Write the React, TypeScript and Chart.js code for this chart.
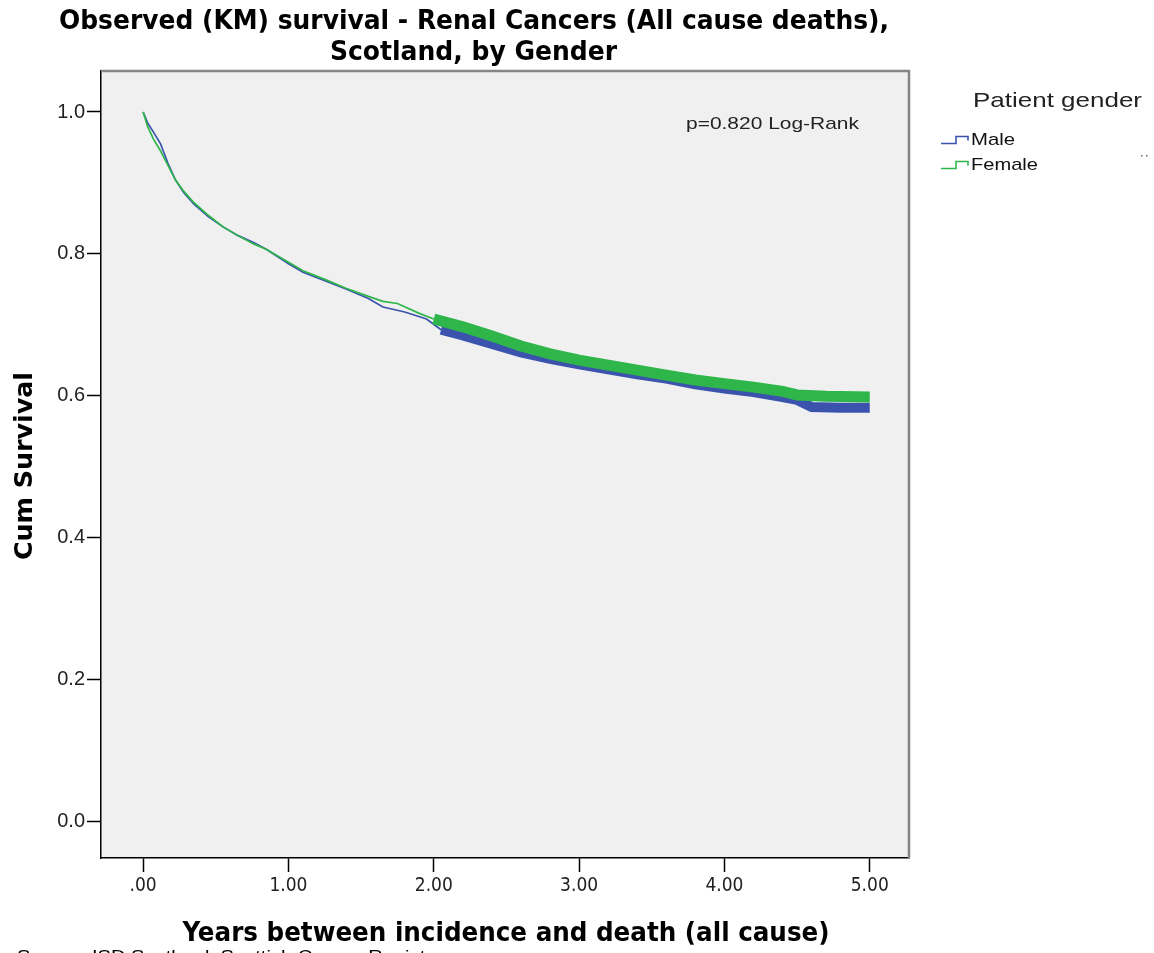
import { useEffect, useRef } from 'react';
import { Chart, registerables } from 'chart.js';

Chart.register(...registerables);

// ---- Data ----
const maleYears = [0, 0.03, 0.07, 0.12, 0.17, 0.22, 0.28, 0.35, 0.45, 0.55, 0.65, 0.76, 0.85, 1.0, 1.1, 1.25, 1.4, 1.55, 1.65, 1.8, 1.95, 2.05, 2.2, 2.4, 2.6, 2.8, 3.0, 3.2, 3.4, 3.6, 3.8, 4.0, 4.2, 4.4, 4.5, 4.6, 4.8, 5.0];
const maleSurvival = [1.0, 0.985, 0.972, 0.955, 0.928, 0.905, 0.886, 0.87, 0.852, 0.838, 0.826, 0.816, 0.806, 0.786, 0.774, 0.762, 0.75, 0.737, 0.725, 0.718, 0.708, 0.693, 0.685, 0.673, 0.661, 0.652, 0.644, 0.637, 0.63, 0.624, 0.616, 0.61, 0.605, 0.598, 0.594, 0.584, 0.583, 0.583];

const femaleYears = [0, 0.03, 0.07, 0.12, 0.17, 0.22, 0.28, 0.35, 0.45, 0.55, 0.65, 0.76, 0.85, 1.0, 1.1, 1.25, 1.4, 1.55, 1.65, 1.75, 1.9, 2.0, 2.2, 2.4, 2.6, 2.8, 3.0, 3.2, 3.4, 3.6, 3.8, 4.0, 4.2, 4.4, 4.5, 4.7, 5.0];
const femaleSurvival = [1.0, 0.98, 0.962, 0.945, 0.925, 0.905, 0.888, 0.872, 0.854, 0.838, 0.826, 0.814, 0.806, 0.788, 0.776, 0.764, 0.751, 0.74, 0.733, 0.73, 0.716, 0.708, 0.697, 0.684, 0.67, 0.659, 0.65, 0.643, 0.636, 0.629, 0.622, 0.617, 0.612, 0.606, 0.601, 0.599, 0.598];

const seriesNames = ['Male', 'Female'];
const seriesColors = ['#3b53ad', '#2fb64a'];
const censorBandFrom = 2.0; // years after which censor marks form a dense band

const xTickValues = [0, 1, 2, 3, 4, 5];
const xTickLabels = ['.00', '1.00', '2.00', '3.00', '4.00', '5.00'];
const yTickValues = [0, 0.2, 0.4, 0.6, 0.8, 1.0];
const yTickLabels = ['0.0', '0.2', '0.4', '0.6', '0.8', '1.0'];

const titleLines = ['Observed (KM) survival - Renal Cancers (All cause deaths),', 'Scotland, by Gender'];
const xTitle = 'Years between incidence and death (all cause)';
const yTitle = 'Cum Survival';
const legendTitle = 'Patient gender';
const annotationText = 'p=0.820 Log-Rank';
const sourceText = 'Source: ISD Scotland, Scottish Cancer Registry';

function fitText(
  ctx: CanvasRenderingContext2D,
  text: string,
  x: number,
  y: number,
  width: number,
  font: string,
  align: CanvasTextAlign,
  color: string,
  baseline: CanvasTextBaseline = 'alphabetic',
  rotate = 0
) {
  ctx.save();
  ctx.font = font;
  ctx.fillStyle = color;
  ctx.textBaseline = baseline;
  ctx.textAlign = align;
  const w = ctx.measureText(text).width;
  const s = width / w;
  ctx.translate(x, y);
  if (rotate) ctx.rotate(rotate);
  ctx.scale(s, 1);
  ctx.fillText(text, 0, 0);
  ctx.restore();
}

const decorPlugin = {
  id: 'decor',
  beforeDraw(chart: any) {
    const { ctx, chartArea } = chart;
    ctx.save();
    ctx.fillStyle = '#ffffff';
    ctx.fillRect(0, 0, chart.width, chart.height);
    ctx.fillStyle = '#f0f0f0';
    ctx.fillRect(chartArea.left, chartArea.top, chartArea.right - chartArea.left, chartArea.bottom - chartArea.top);
    ctx.restore();
  },
  afterDraw(chart: any) {
    const { ctx, chartArea } = chart;
    ctx.save();
    // top / right frame
    ctx.strokeStyle = '#858585';
    ctx.lineWidth = 2.5;
    ctx.beginPath();
    ctx.moveTo(chartArea.left, chartArea.top);
    ctx.lineTo(chartArea.right, chartArea.top);
    ctx.lineTo(chartArea.right, chartArea.bottom);
    ctx.stroke();

    const bold = 'bold 26px "DejaVu Sans Condensed", "DejaVu Sans", sans-serif';
    fitText(ctx, titleLines[0], 474, 29, 830, bold, 'center', '#000');
    fitText(ctx, titleLines[1], 473.5, 60, 287, bold, 'center', '#000');
    fitText(ctx, xTitle, 506, 941, 647, bold, 'center', '#000');
    fitText(ctx, yTitle, 32, 466, 188, 'bold 25px "DejaVu Sans Condensed", "DejaVu Sans", sans-serif', 'center', '#000', 'alphabetic', -Math.PI / 2);

    // source line (cut off at the bottom of the picture)
    fitText(ctx, sourceText, 17, 962, 425, '17px "Liberation Sans", Arial, sans-serif', 'left', '#000');

    // annotation
    fitText(ctx, annotationText, 686, 124, 173, '17px "Liberation Sans", Arial, sans-serif', 'left', '#222', 'middle');

    // legend
    fitText(ctx, legendTitle, 973, 107, 169, '21px "Liberation Sans", Arial, sans-serif', 'left', '#222');
    const itemY = [140, 165];
    const itemW = [44, 67];
    seriesNames.forEach((name, i) => {
      const y = itemY[i];
      ctx.strokeStyle = seriesColors[i];
      ctx.lineWidth = 1.6;
      ctx.beginPath();
      ctx.moveTo(941, y + 3.5);
      ctx.lineTo(956, y + 3.5);
      ctx.lineTo(956, y - 3.5);
      ctx.lineTo(968, y - 3.5);
      ctx.lineTo(968, y + 0.5);
      ctx.stroke();
      fitText(ctx, name, 971, y, itemW[i], '17px "Liberation Sans", Arial, sans-serif', 'left', '#111', 'middle');
    });
    ctx.fillStyle = '#666';
    ctx.fillRect(1141, 155, 1.5, 1.5);
    ctx.fillRect(1146, 155, 1.5, 1.5);
    ctx.restore();
  },
};

export default function App() {
  const ref = useRef<HTMLCanvasElement | null>(null);
  useEffect(() => {
    document.body.style.margin = '0';
    const canvas = ref.current;
    if (!canvas) return;
    const series = [
      { years: maleYears, surv: maleSurvival },
      { years: femaleYears, surv: femaleSurvival },
    ];
    const bandWidths = [10, 11];
    const chart = new Chart(canvas, {
      type: 'line',
      data: {
        datasets: series.map((s, i) => ({
          label: seriesNames[i],
          data: s.years.map((x, j) => ({ x, y: s.surv[j] })),
          borderColor: seriesColors[i],
          backgroundColor: seriesColors[i],
          borderWidth: 1.7,
          pointRadius: 0,
          tension: 0,
          fill: false,
          order: i === 0 ? 1 : 0,
          segment: {
            borderWidth: (c: any) => (c.p0.parsed.x >= censorBandFrom - 0.001 ? bandWidths[i] : 1.7),
          },
        })),
      },
      options: {
        responsive: false,
        animation: false,
        layout: { padding: { left: 0, top: 71, right: 245, bottom: 0 } },
        plugins: { legend: { display: false }, tooltip: { enabled: false }, title: { display: false } },
        scales: {
          x: {
            type: 'linear',
            min: -0.29,
            max: 5.27,
            afterFit: (scale: any) => {
              scale.height = 95;
            },
            afterBuildTicks: (scale: any) => {
              scale.ticks = xTickValues.map((v) => ({ value: v }));
            },
            ticks: {
              callback: (v: any) => xTickLabels[xTickValues.indexOf(Number(v))] ?? '',
              font: { size: 19, family: '"DejaVu Sans Condensed", "Liberation Sans Narrow", Arial, sans-serif' },
              color: '#222',
              padding: 3,
              maxRotation: 0,
              autoSkip: false,
            },
            grid: { drawOnChartArea: false, drawTicks: true, tickLength: 14, tickColor: '#000', tickWidth: 1.5 },
            border: { color: '#000', width: 1.5 },
          },
          y: {
            type: 'linear',
            min: -0.052,
            max: 1.0578,
            afterFit: (scale: any) => {
              scale.width = 101;
            },
            afterBuildTicks: (scale: any) => {
              scale.ticks = yTickValues.map((v) => ({ value: v }));
            },
            ticks: {
              callback: (v: any) => {
                const idx = yTickValues.findIndex((t) => Math.abs(t - Number(v)) < 1e-9);
                return idx >= 0 ? yTickLabels[idx] : '';
              },
              font: { size: 20, family: '"Liberation Sans", Arial, sans-serif' },
              color: '#222',
              padding: 2,
              autoSkip: false,
            },
            grid: { drawOnChartArea: false, drawTicks: true, tickLength: 14, tickColor: '#000', tickWidth: 1.5 },
            border: { color: '#000', width: 1.5 },
          },
        },
      },
      plugins: [decorPlugin],
    });
    return () => chart.destroy();
  }, []);
  return (
    <canvas
      ref={ref}
      width={1154}
      height={953}
      style={{ display: 'block', position: 'absolute', left: 0, top: 0, width: 1154, height: 953 }}
    />
  );
}
